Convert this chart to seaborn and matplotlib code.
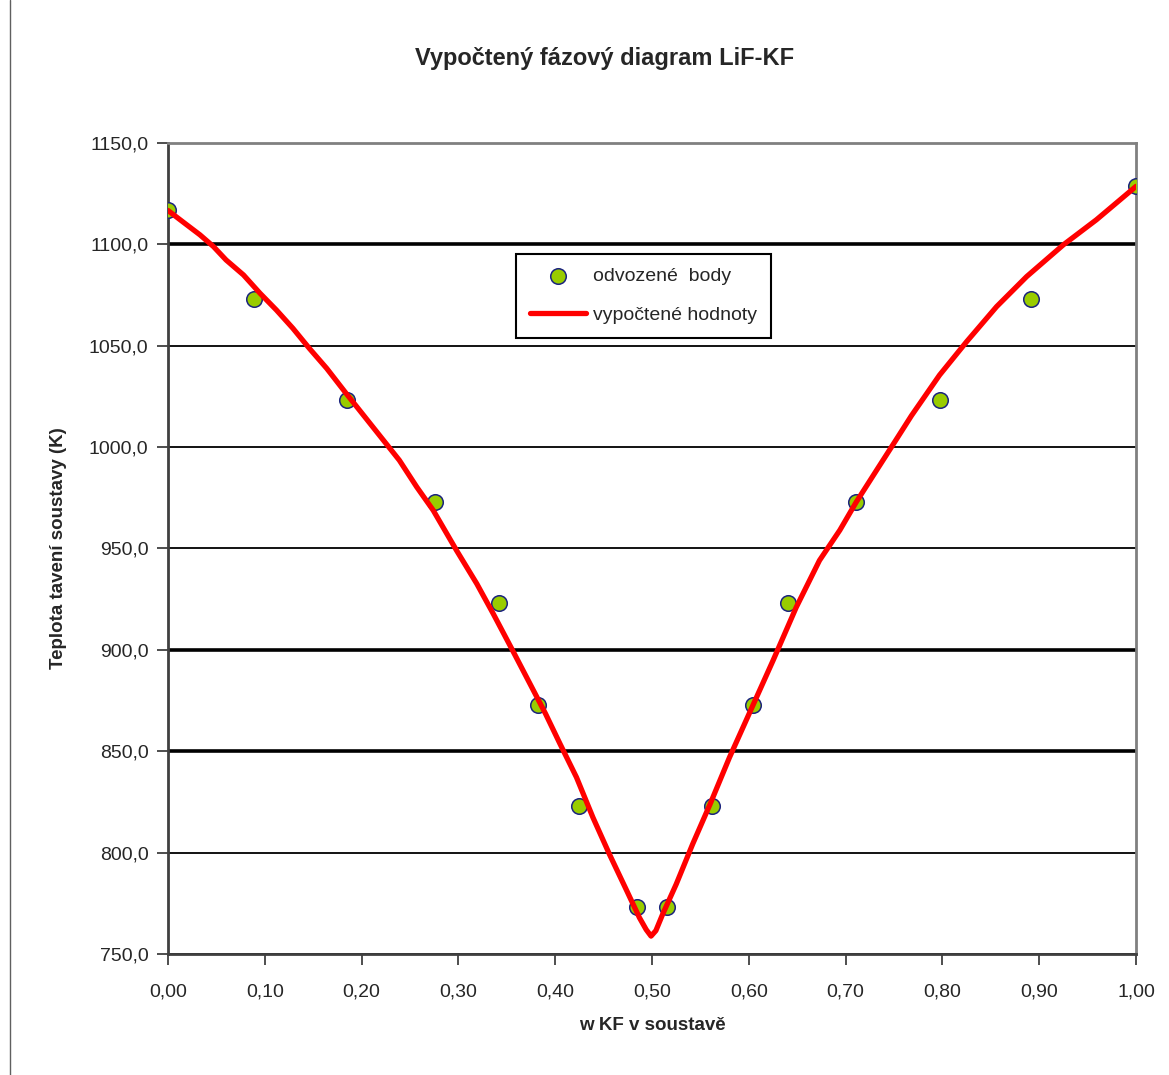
import matplotlib as mpl
import numpy as np
import pandas
import seaborn as sns
from matplotlib import pyplot
from matplotlib import ticker
from matplotlib.lines import Line2D

# %% -- data ---------------------------------------------------------------- #
# derived points (odvozene body)
bod_x = [0.000, 0.089, 0.185, 0.276, 0.342, 0.382, 0.425, 0.484,
         0.515, 0.562, 0.604, 0.640, 0.711, 0.797, 0.892, 1.000]
bod_t = [1117, 1073, 1023, 973, 923, 873, 823, 773,
         773, 823, 873, 923, 973, 1023, 1073, 1129]

# computed curve (vypoctene hodnoty)
krivka_x = [0.000, 0.017, 0.033, 0.047, 0.060, 0.078, 0.095, 0.112, 0.129,
            0.146, 0.164, 0.184, 0.205, 0.219, 0.239, 0.257, 0.274, 0.298,
            0.319, 0.336, 0.356, 0.374, 0.390, 0.405, 0.422, 0.439, 0.456,
            0.474, 0.487, 0.494, 0.499, 0.504, 0.511, 0.525, 0.542, 0.560,
            0.580, 0.601, 0.625, 0.649, 0.673, 0.694, 0.711, 0.732, 0.752,
            0.768, 0.797, 0.825, 0.856, 0.887, 0.925, 0.959, 1.000]
krivka_t = [1116.7, 1110.5, 1104.7, 1098.9, 1092.3, 1084.9, 1075.9, 1067.6, 1058.6,
            1048.7, 1038.8, 1026.5, 1013.9, 1005.5, 993.5, 980.3, 968.8, 949.1,
            932.6, 917.8, 899.7, 883.2, 868.5, 853.6, 837.1, 817.3, 799.2,
            781.1, 767.9, 762.0, 758.8, 761.5, 769.6, 784.4, 804.2, 823.9,
            846.9, 869.2, 894.7, 921.0, 944.1, 959.0, 972.9, 988.6, 1003.5,
            1015.5, 1035.5, 1052.0, 1069.3, 1084.1, 1099.8, 1112.1, 1128.6]

popisky = {'title': 'Vypočtený fázový diagram LiF-KF',
           'xlabel': 'w KF v soustavě',
           'ylabel': 'Teplota tavení soustavy (K)',
           'body': 'odvozené  body',
           'krivka': 'vypočtené hodnoty'}

# %% -- plot defaults ------------------------------------------------------- #
sns.set_style("white")
mpl.rcParams['font.family'] = ['Liberation Sans', 'DejaVu Sans']

data_body = pandas.DataFrame({'x': bod_x, 't': bod_t})
data_krivka = pandas.DataFrame({'x': krivka_x, 't': krivka_t})

f = pyplot.figure(figsize=(11.69, 10.75), dpi=100)
ax = f.add_axes([0.1437, 0.1126, 0.8281, 0.7544])

# grid first so marks sit on top
ax.set_axisbelow(True)
ax.yaxis.grid(True, color='black', linewidth=1.3)
ax.xaxis.grid(False)

# points then curve
sns.scatterplot(data=data_body, x='x', y='t', ax=ax, s=125,
                color='#99CC00', edgecolor='#1A237E', linewidth=1.1,
                label=popisky['body'], zorder=3)
sns.lineplot(data=data_krivka, x='x', y='t', ax=ax, color='#FF0000',
             linewidth=3.8, sort=False, estimator=None,
             label=popisky['krivka'], zorder=4)
ax.lines[-1].set_solid_joinstyle('round')

# aesthetics
ax.set_xlim(0, 1)
ax.set_ylim(750, 1150)
ax.set_xticks(np.arange(0, 1.01, 0.1))
ax.set_yticks(np.arange(750, 1151, 50))
ax.xaxis.set_major_formatter(ticker.FuncFormatter(lambda v, p: f"{v:.2f}".replace('.', ',')))
ax.yaxis.set_major_formatter(ticker.FuncFormatter(lambda v, p: f"{v:.1f}".replace('.', ',')))
ax.tick_params(axis='x', bottom=True, direction='out', length=8, width=1.3,
               color='#404040', pad=13, labelsize=14)
ax.tick_params(axis='y', left=True, direction='out', length=8, width=1.3,
               color='#404040', pad=6, labelsize=14)

# thicker gridlines as rendered in the original
for g, v in zip(ax.yaxis.get_gridlines(), ax.get_yticks()):
    if v in (1100, 900, 850):
        g.set_linewidth(2.6)

for s in ['top', 'right']:
    ax.spines[s].set_color('#808080')
    ax.spines[s].set_linewidth(2)
for s in ['left', 'bottom']:
    ax.spines[s].set_color('#404040')
    ax.spines[s].set_linewidth(2)

f.text(0.517, 0.946, popisky['title'], fontsize=17, fontweight='bold',
       ha='center', va='center')
ax.set_xlabel(popisky['xlabel'], fontsize=13.5, fontweight='bold', labelpad=12)
ax.set_ylabel(popisky['ylabel'], fontsize=13.5, fontweight='bold', labelpad=16)

leg = ax.legend(loc='upper left', bbox_to_anchor=(0.360, 0.863), borderaxespad=0,
                frameon=True, fancybox=False, edgecolor='black', framealpha=1,
                fontsize=14, handlelength=2.9, borderpad=0.7, labelspacing=1.1,
                handletextpad=0.35)
leg.get_frame().set_linewidth(1.5)

# left page edge line
f.add_artist(Line2D([0.0085, 0.0085], [0, 1], color='#606060', linewidth=1))

pyplot.savefig('out.png', dpi=100)
